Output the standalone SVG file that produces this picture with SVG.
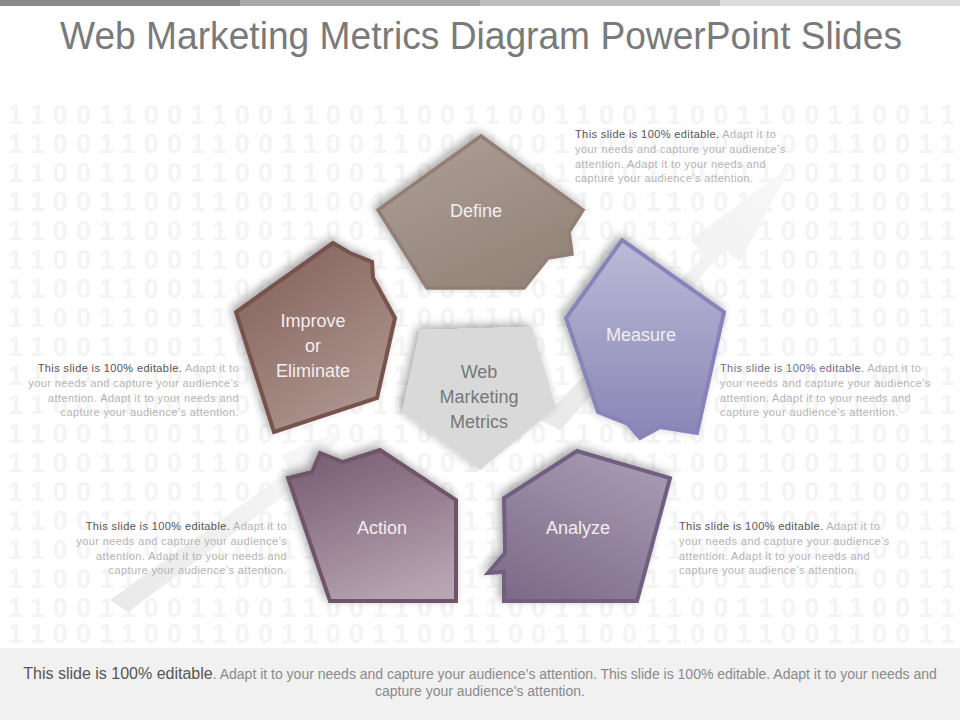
<svg xmlns="http://www.w3.org/2000/svg" width="960" height="720" viewBox="0 0 960 720">
<defs>
<style>
.t{font-family:"Liberation Sans",Arial,sans-serif}
.title{font-size:38px;fill:#7a7a7a}
.bin{font-family:"Liberation Sans",Arial,sans-serif;font-size:27px;font-weight:bold;fill:#f4f4f4}
.lbl{font-family:"Liberation Sans",Arial,sans-serif;font-size:18px;fill:#f2eeee;text-anchor:middle}
.ctr{font-family:"Liberation Sans",Arial,sans-serif;font-size:18px;fill:#777;text-anchor:middle}
.blk{font-family:"Liberation Sans",Arial,sans-serif;font-size:11px;letter-spacing:0.4px;fill:#b4b4b4}
.dk{fill:#555}
.foot{font-family:"Liberation Sans",Arial,sans-serif;font-size:14px;fill:#8a8a8a;text-anchor:middle}
</style>
<filter id="sh" x="-30%" y="-30%" width="160%" height="160%">
<feGaussianBlur in="SourceAlpha" stdDeviation="5"/>
<feOffset dx="-3" dy="-3"/>
<feComponentTransfer><feFuncA type="linear" slope="0.35"/></feComponentTransfer>
<feMerge><feMergeNode/><feMergeNode in="SourceGraphic"/></feMerge>
</filter>
<linearGradient id="gDef" x1="0" y1="0" x2="0.6" y2="1"><stop offset="0" stop-color="#ae9f97"/><stop offset="1" stop-color="#94857b"/></linearGradient>
<linearGradient id="gMea" x1="0" y1="0" x2="0" y2="1"><stop offset="0" stop-color="#bcbad7"/><stop offset="1" stop-color="#8985b6"/></linearGradient>
<linearGradient id="gImp" x1="0.2" y1="0" x2="0.8" y2="1"><stop offset="0" stop-color="#84625b"/><stop offset="1" stop-color="#b19993"/></linearGradient>
<linearGradient id="gAct" x1="0.3" y1="0" x2="0.7" y2="1"><stop offset="0" stop-color="#7a6075"/><stop offset="1" stop-color="#b8a5b2"/></linearGradient>
<linearGradient id="gAna" x1="0.8" y1="0" x2="0.2" y2="1"><stop offset="0" stop-color="#a99bb3"/><stop offset="1" stop-color="#7e6b89"/></linearGradient>
<linearGradient id="gArr" x1="0" y1="1" x2="1" y2="0"><stop offset="0" stop-color="#e9e9e9"/><stop offset="1" stop-color="#f8f8f8"/></linearGradient>
</defs>

<rect x="0" y="0" width="960" height="720" fill="#ffffff"/>
<g id="topbar">
<rect x="0" y="0" width="240" height="6" fill="#8a8a8a"/>
<rect x="240" y="0" width="240" height="6" fill="#a8a8a8"/>
<rect x="480" y="0" width="240" height="6" fill="#bdbdbd"/>
<rect x="720" y="0" width="240" height="6" fill="#dcdcdc"/>
</g>

<text class="t title" x="60" y="49" textLength="842" lengthAdjust="spacingAndGlyphs">Web Marketing  Metrics  Diagram  PowerPoint  Slides</text>

<g id="binary">
<text class="bin" x="8" y="124" textLength="947" lengthAdjust="spacing">110011001100110011001100110011001100110011</text>
<text class="bin" x="8" y="153" textLength="947" lengthAdjust="spacing">110011001100110011001100110011001100110011</text>
<text class="bin" x="8" y="182" textLength="947" lengthAdjust="spacing">110011001100110011001100110011001100110011</text>
<text class="bin" x="8" y="211" textLength="947" lengthAdjust="spacing">110011001100110011001100110011001100110011</text>
<text class="bin" x="8" y="240" textLength="947" lengthAdjust="spacing">110011001100110011001100110011001100110011</text>
<text class="bin" x="8" y="269" textLength="947" lengthAdjust="spacing">110011001100110011001100110011001100110011</text>
<text class="bin" x="8" y="298" textLength="947" lengthAdjust="spacing">110011001100110011001100110011001100110011</text>
<text class="bin" x="8" y="327" textLength="947" lengthAdjust="spacing">110011001100110011001100110011001100110011</text>
<text class="bin" x="8" y="356" textLength="947" lengthAdjust="spacing">110011001100110011001100110011001100110011</text>
<text class="bin" x="8" y="385" textLength="947" lengthAdjust="spacing">110011001100110011001100110011001100110011</text>
<text class="bin" x="8" y="414" textLength="947" lengthAdjust="spacing">110011001100110011001100110011001100110011</text>
<text class="bin" x="8" y="443" textLength="947" lengthAdjust="spacing">110011001100110011001100110011001100110011</text>
<text class="bin" x="8" y="472" textLength="947" lengthAdjust="spacing">110011001100110011001100110011001100110011</text>
<text class="bin" x="8" y="501" textLength="947" lengthAdjust="spacing">110011001100110011001100110011001100110011</text>
<text class="bin" x="8" y="530" textLength="947" lengthAdjust="spacing">110011001100110011001100110011001100110011</text>
<text class="bin" x="8" y="559" textLength="947" lengthAdjust="spacing">110011001100110011001100110011001100110011</text>
<text class="bin" x="8" y="588" textLength="947" lengthAdjust="spacing">110011001100110011001100110011001100110011</text>
<text class="bin" x="8" y="617" textLength="947" lengthAdjust="spacing">110011001100110011001100110011001100110011</text>
<text class="bin" x="8" y="643" textLength="947" lengthAdjust="spacing">110011001100110011001100110011001100110011</text>
</g>

<g id="arrows">
<polygon points="110,600 290,470 282,455 340,430 318,488 308,478 128,612" fill="url(#gArr)"/>
<polygon points="540,420 705,255 690,240 792,165 740,262 725,250 560,430" fill="url(#gArr)"/>
</g>

<g id="center">
<polygon points="420,330 532,327 556,408 480,470 402,412" fill="#d9d9d9" filter="url(#sh)"/>
<text class="ctr" x="479" y="378">Web</text>
<text class="ctr" x="479" y="403">Marketing</text>
<text class="ctr" x="479" y="428">Metrics</text>
</g>

<g id="define">
<polygon points="481,136 583,210 569,232 572,254 548,258 524,288 427,288 378,210" fill="url(#gDef)" stroke="#917f74" stroke-width="3.5" filter="url(#sh)"/>
<text class="lbl" x="476" y="217">Define</text>
</g>

<g id="measure">
<polygon points="622,240 724,312 697,433 660,427 640,438 628,424 598,412 566,318" fill="url(#gMea)" stroke="#8884ba" stroke-width="4" filter="url(#sh)"/>
<text class="lbl" x="641" y="341">Measure</text>
</g>

<g id="improve">
<polygon points="333,243 350,253 372,262 373,278 395,318 377,398 274,432 236,312" fill="url(#gImp)" stroke="#76524c" stroke-width="4" filter="url(#sh)"/>
<text class="lbl" x="313" y="327">Improve</text>
<text class="lbl" x="313" y="352">or</text>
<text class="lbl" x="313" y="377">Eliminate</text>
</g>

<g id="action">
<polygon points="288,478 312,472 320,453 343,462 380,450 456,500 456,601 330,601" fill="url(#gAct)" stroke="#6f5569" stroke-width="4" filter="url(#sh)"/>
<text class="lbl" x="382" y="534">Action</text>
</g>

<g id="analyze">
<polygon points="577,451 670,478 637,601 504,601 504,572 488,573 505,553 504,498" fill="url(#gAna)" stroke="#725f80" stroke-width="4" filter="url(#sh)"/>
<text class="lbl" x="578" y="534">Analyze</text>
</g>

<g id="txt-define" class="blk">
<text x="575" y="138"><tspan class="dk">This slide is 100% editable.</tspan> Adapt it to</text>
<text x="575" y="153">your needs and capture your audience’s</text>
<text x="575" y="168">attention. Adapt it to your needs and</text>
<text x="575" y="182">capture your audience’s attention.</text>
</g>
<g id="txt-measure" class="blk">
<text x="720" y="372"><tspan fill="#6e6d90">This slide is 100% editable.</tspan> Adapt it to</text>
<text x="720" y="387">your needs and capture your audience’s</text>
<text x="720" y="402">attention. Adapt it to your needs and</text>
<text x="720" y="416">capture your audience’s attention.</text>
</g>
<g id="txt-improve" class="blk" text-anchor="end">
<text x="239" y="372"><tspan class="dk">This slide is 100% editable.</tspan> Adapt it to</text>
<text x="239" y="387">your needs and capture your audience’s</text>
<text x="239" y="402">attention. Adapt it to your needs and</text>
<text x="239" y="416">capture your audience’s attention.</text>
</g>
<g id="txt-action" class="blk" text-anchor="end">
<text x="287" y="530"><tspan class="dk">This slide is 100% editable.</tspan> Adapt it to</text>
<text x="287" y="545">your needs and capture your audience’s</text>
<text x="287" y="560">attention. Adapt it to your needs and</text>
<text x="287" y="574">capture your audience’s attention.</text>
</g>
<g id="txt-analyze" class="blk">
<text x="679" y="530"><tspan class="dk">This slide is 100% editable.</tspan> Adapt it to</text>
<text x="679" y="545">your needs and capture your audience’s</text>
<text x="679" y="560">attention. Adapt it to your needs and</text>
<text x="679" y="574">capture your audience’s attention.</text>
</g>

<g id="footer">
<rect x="0" y="648" width="960" height="72" fill="#f1f1f1"/>
<text class="foot" x="480" y="679"><tspan font-size="16" fill="#555">This slide is 100% editable</tspan>. Adapt it to your needs and capture your audience’s attention. This slide is 100% editable. Adapt it to your needs and</text>
<text class="foot" x="480" y="696">capture your audience’s attention.</text>
</g>
</svg>
